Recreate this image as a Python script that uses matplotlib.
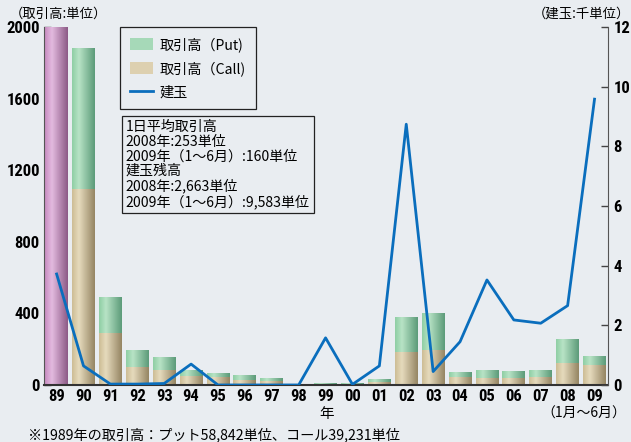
import numpy as np
import matplotlib
matplotlib.use("Agg")
import matplotlib.pyplot as plt
from matplotlib import font_manager
from matplotlib.colors import LinearSegmentedColormap
from matplotlib.patches import Patch
from matplotlib.lines import Line2D

plt.rcParams['font.family'] = ['Noto Sans CJK JP', 'DejaVu Sans']

# data
years = ['89', '90', '91', '92', '93', '94', '95', '96', '97', '98', '99',
         '00', '01', '02', '03', '04', '05', '06', '07', '08', '09']
callVol = [39231, 1095, 292, 100, 86, 50, 45, 28, 24, 2, 5,
           5, 17, 186, 196, 45, 41, 41, 45, 123, 112]
putVol = [58842, 790, 200, 96, 70, 36, 22, 28, 15, 1, 5,
          4, 16, 194, 206, 28, 45, 37, 41, 134, 50]
openInt = [3.72, 0.64, 0.03, 0.03, 0.05, 0.70, 0.0, 0.0, 0.0, 0.0, 1.58,
           0.02, 0.64, 8.74, 0.45, 1.45, 3.52, 2.18, 2.07, 2.66, 9.58]

bg = '#e9edf1'
lineColor = '#0a6ebd'

# pick a narrow font for the numbers if one is around
names = set(f.name for f in font_manager.fontManager.ttflist)
condensed = [f for f in font_manager.fontManager.ttflist
             if f.name == 'DejaVu Sans' and 'condensed' in str(f.stretch).lower()]
if 'Liberation Sans Narrow' in names:
    tickFont = dict(family=['Liberation Sans Narrow', 'Noto Sans CJK JP'], weight='bold')
elif 'Roboto Condensed' in names:
    tickFont = dict(family=['Roboto Condensed', 'Noto Sans CJK JP'], weight='bold')
elif 'DejaVu Sans Condensed' in names:
    tickFont = dict(family=['DejaVu Sans Condensed'], weight='bold')
elif condensed:
    tickFont = dict(family=['DejaVu Sans'], stretch='condensed', weight='bold')
else:
    tickFont = dict(family=['Noto Sans CJK JP', 'DejaVu Sans'], weight='bold')

tanMap = LinearSegmentedColormap.from_list('tan', [(0, '#cdbd95'), (0.3, '#e6dbbd'), (1, '#958563')])
greenMap = LinearSegmentedColormap.from_list('green', [(0, '#8fcea4'), (0.3, '#b8e3c6'), (1, '#5c9b79')])
purpleMap = LinearSegmentedColormap.from_list('purple', [(0, '#c88dc2'), (0.3, '#e3bbdf'), (1, '#8c5a86')])

YMAX = 2000


def gradientBars(ax, bars, cmap):
    grad = np.linspace(0, 1, 64).reshape(1, -1)
    for b in bars:
        x0 = b.get_x()
        y0 = b.get_y()
        y1 = min(y0 + b.get_height(), YMAX)
        if y1 <= y0:
            continue
        im = ax.imshow(grad, cmap=cmap, aspect='auto', interpolation='bicubic',
                       extent=[x0, x0 + b.get_width(), y0, y1], zorder=2)
        im.set_clip_path(b)
        b.set_facecolor('none')


fig = plt.figure(figsize=(6.31, 4.42), dpi=100)
fig.patch.set_facecolor(bg)
ax = fig.add_axes([0.0697, 0.129, 0.8938, 0.81])
ax.set_facecolor(bg)

x = np.arange(len(years))
width = 0.85
call = np.array(callVol, dtype=float)
put = np.array(putVol, dtype=float)

callBars = ax.bar(x[1:], call[1:], width, color='#ddd0b0', linewidth=0, zorder=2)
putBars = ax.bar(x[1:], put[1:], width, bottom=call[1:], color='#a6d9b8', linewidth=0, zorder=2)
firstBar = ax.bar(x[:1], [YMAX], width, color='#d8a8d4', linewidth=0, zorder=2)

gradientBars(ax, callBars, tanMap)
gradientBars(ax, putBars, greenMap)
gradientBars(ax, firstBar, purpleMap)
ax.set_xlim(-0.47, 20.5)
ax.set_ylim(0, YMAX)

ax.set_yticks([0, 400, 800, 1200, 1600, 2000])
ax.set_xticks(x)
ax.set_xticklabels(years)
ax.tick_params(axis='y', direction='in', length=5, width=1, color='#444', pad=3)
ax.tick_params(axis='x', length=0, pad=3)
for lab in ax.get_xticklabels() + ax.get_yticklabels():
    lab.update(tickFont)
    lab.set_fontsize(12)

for s in ['top', 'right']:
    ax.spines[s].set_visible(False)
ax.spines['left'].set_color('#555')
ax.spines['bottom'].set_color('#333')
ax.spines['bottom'].set_linewidth(1.5)

ax2 = ax.twinx()
ax2.plot(x, openInt, color=lineColor, lw=2.0, zorder=5)
ax2.set_ylim(0, 12)
ax2.set_yticks([0, 2, 4, 6, 8, 10, 12])
ax2.tick_params(axis='y', direction='in', length=5, width=1, color='#444', pad=4)
for lab in ax2.get_yticklabels():
    lab.update(tickFont)
    lab.set_fontsize(12)
for s in ['top', 'left', 'bottom']:
    ax2.spines[s].set_visible(False)
ax2.spines['right'].set_color('#555')

handles = [Patch(facecolor='#a6d9b8', edgecolor='none', label='取引高（Put)'),
           Patch(facecolor='#ddd0b0', edgecolor='none', label='取引高（Call)'),
           Line2D([0], [0], color=lineColor, lw=2, label='建玉')]
leg = ax2.legend(handles=handles, loc='upper left', bbox_to_anchor=(0.135, 1.0),
                 borderaxespad=0, fontsize=10.2, frameon=True, fancybox=False,
                 edgecolor='#222', facecolor=bg, framealpha=1, handlelength=1.6,
                 handleheight=1.0, labelspacing=0.65, borderpad=0.7, handletextpad=0.5)
leg.get_frame().set_linewidth(0.9)

note = ('1日平均取引高\n2008年:253単位\n2009年（1～6月）:160単位\n'
        '建玉残高\n2008年:2,663単位\n2009年（1～6月）:9,583単位')
ax2.text(0.145, 0.74, note, transform=ax2.transAxes, fontsize=10.1, va='top', ha='left',
         linespacing=1.06,
         bbox=dict(boxstyle='square,pad=0.3', facecolor=bg, edgecolor='#222', lw=0.9))

fig.text(0.016, 0.97, '（取引高:単位）', fontsize=9.6, va='center', ha='left')
fig.text(0.999, 0.97, '（建玉:千単位）', fontsize=9.6, va='center', ha='right')
fig.text(0.518, 0.064, '年', fontsize=10.5, va='center', ha='center')
fig.text(0.992, 0.064, '（1月～6月）', fontsize=10, va='center', ha='right')
fig.text(0.044, 0.016, '※1989年の取引高：プット58,842単位、コール39,231単位',
         fontsize=10.2, va='center', ha='left')

fig.savefig('out.png', dpi=100, facecolor=bg)
